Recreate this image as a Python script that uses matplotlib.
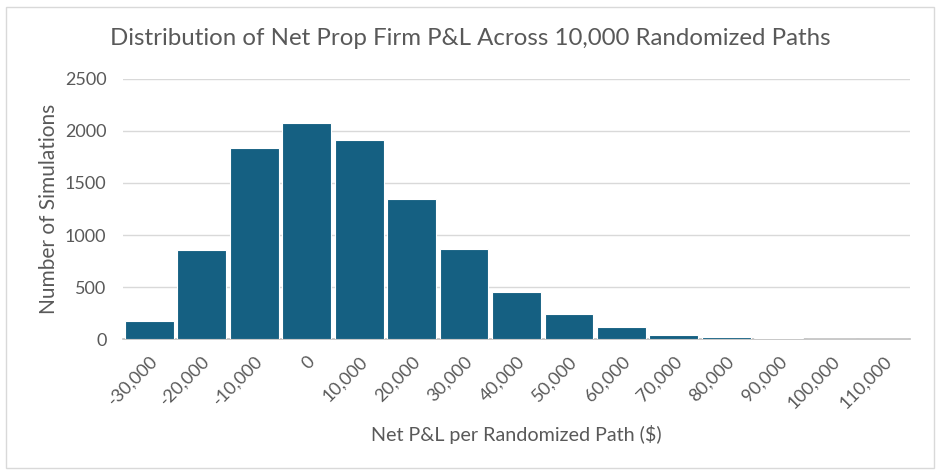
import matplotlib
matplotlib.use("Agg")
import matplotlib.pyplot as plt
from matplotlib.patches import Rectangle

plt.rcParams['font.family'] = ['Lato', 'DejaVu Sans']

# bin labels and counts
bins = ['-30,000', '-20,000', '-10,000', '0', '10,000', '20,000', '30,000',
        '40,000', '50,000', '60,000', '70,000', '80,000', '90,000',
        '100,000', '110,000']
counts = [176, 858, 1835, 2080, 1911, 1345, 867, 450, 238, 112, 42, 24, 9, 3, 2]

bar_color = '#156082'
text_color = '#595959'
grid_color = '#d9d9d9'

fig = plt.figure(figsize=(9.4, 4.75), dpi=100)
ax = fig.add_axes([0.131, 0.286, 0.837, 0.548])

x = range(len(bins))
ax.bar(x, counts, width=0.93, color=bar_color, edgecolor='white', linewidth=0.8, zorder=3)

ax.set_xlim(-0.5, len(bins) - 0.5)
ax.set_ylim(0, 2500)
ax.set_yticks(range(0, 2501, 500))
ax.yaxis.grid(True, color=grid_color, linewidth=1, zorder=0)
ax.set_xticks(list(x))
ax.set_xticklabels(bins, rotation=45, ha='right', rotation_mode='anchor')

for s in ['top', 'right', 'left']:
    ax.spines[s].set_visible(False)
ax.spines['bottom'].set_color('#bfbfbf')
ax.spines['bottom'].set_linewidth(1.2)
ax.tick_params(axis='both', length=0, colors=text_color, labelsize=13)
ax.tick_params(axis='x', pad=10)
ax.tick_params(axis='y', pad=12)

ax.set_ylabel('Number of Simulations', fontsize=15, color=text_color, labelpad=4)
ax.set_xlabel('Net P&L per Randomized Path ($)', fontsize=14.2, color=text_color, labelpad=10)

fig.text(0.5, 0.918, 'Distribution of Net Prop Firm P&L Across 10,000 Randomized Paths',
         ha='center', va='center', fontsize=17.3, color=text_color)

# light frame around the whole chart, like an Excel chart area
fig.patches.append(Rectangle((0.006, 0.014), 0.988, 0.972, transform=fig.transFigure,
                             fill=False, edgecolor='#d9d9d9', linewidth=1))

fig.savefig('out.png', dpi=100)
